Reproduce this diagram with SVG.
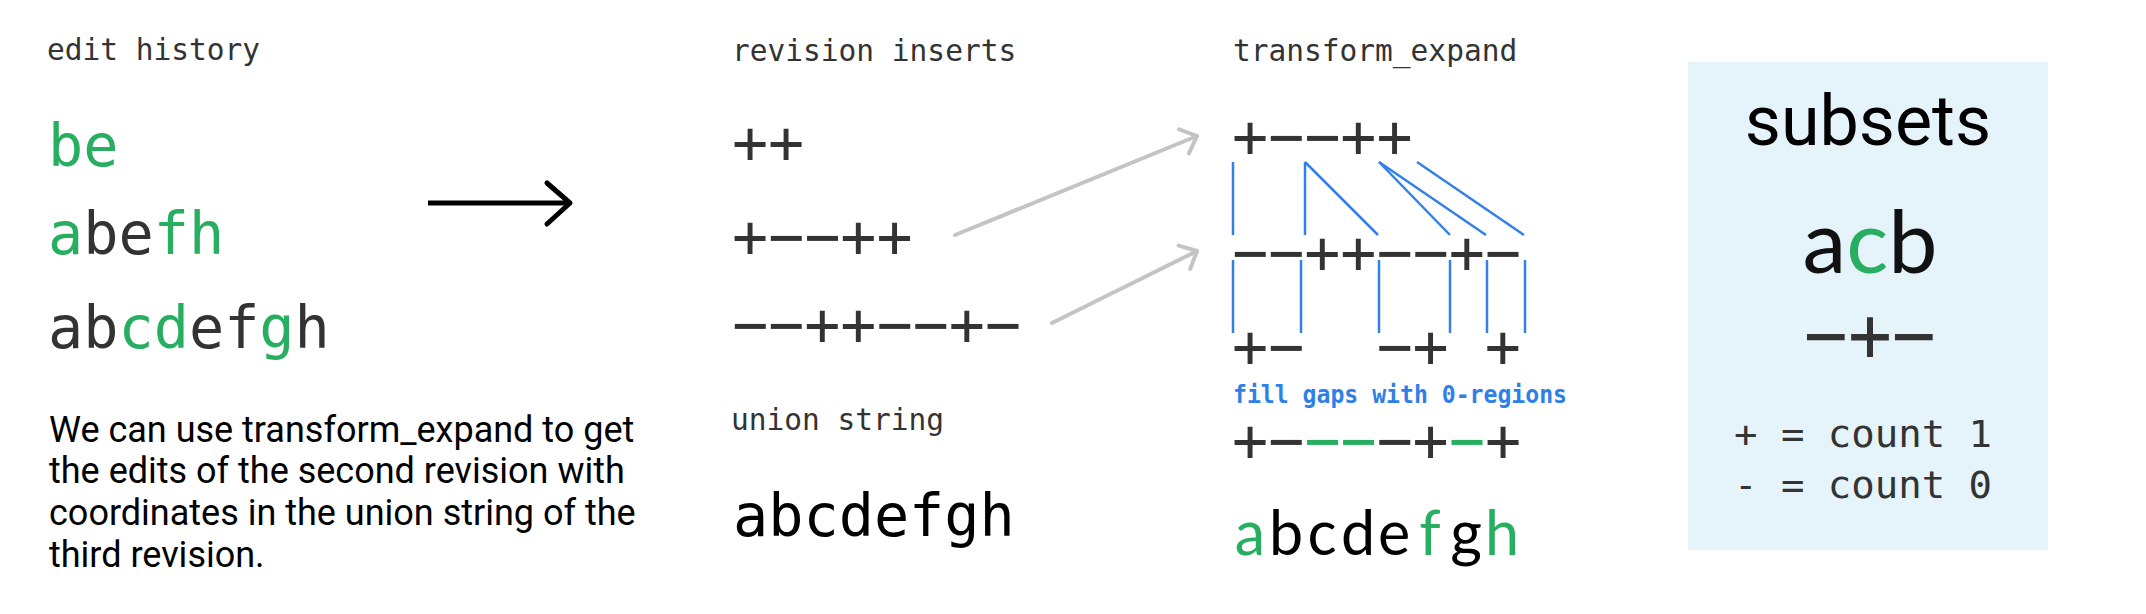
<svg xmlns="http://www.w3.org/2000/svg" width="2146" height="614" viewBox="0 0 2146 614">
<style>
.lbl{font-family:"DejaVu Sans Mono",monospace;font-size:29.5px;fill:#333}
.big{font-family:"DejaVu Sans Mono",monospace;font-size:58.5px;fill:#333}
.pm{font-family:"DejaVu Sans Mono",monospace;font-size:60px;fill:#333}
.lato{font-family:Lato,sans-serif;font-size:61px;fill:#000}
.g{fill:#27ae60}
.k{fill:#000}
.para{font-family:Roboto,sans-serif;font-size:36px;fill:#000}
.blue{stroke:#3381e8;stroke-width:2.5;fill:none}
.gray{stroke:#c4c4c4;stroke-width:4;fill:none;stroke-linecap:round}
.fill{font-family:"DejaVu Sans Mono",monospace;font-size:24px;font-weight:bold;fill:#2f7fe8}
.legend{font-family:"DejaVu Sans Mono",monospace;font-size:38px;fill:#333}
</style>
<defs>
<marker id="ga" markerUnits="userSpaceOnUse" refX="0" refY="0" markerWidth="40" markerHeight="40" orient="auto" style="overflow:visible">
<path d="M-14,-13 L0,0 L-14,13" fill="none" stroke="#c4c4c4" stroke-width="4" stroke-linecap="round" stroke-linejoin="round"/>
</marker>
</defs>

<g id="edit-history">
<text class="lbl" x="47" y="60">edit history</text>
<text class="big" x="48" y="166"><tspan class="g">be</tspan></text>
<text class="big" x="48" y="254"><tspan class="g">a</tspan>be<tspan class="g">fh</tspan></text>
<text class="big" x="48" y="348">ab<tspan class="g">cd</tspan>ef<tspan class="g">g</tspan>h</text>
</g>

<g id="description">
<text class="para" x="49" y="442">We can use transform_expand to get</text>
<text class="para" x="49" y="483">the edits of the second revision with</text>
<text class="para" x="49" y="525">coordinates in the union string of the</text>
<text class="para" x="49" y="567">third revision.</text>
</g>

<g id="revision-inserts">
<text class="lbl" x="732" y="61">revision inserts</text>
<text class="pm" x="732" y="163">++</text>
<text class="pm" x="732" y="257">+−−++</text>
<text class="pm" x="732" y="345">−−++−−+−</text>
</g>

<g id="union-string">
<text class="lbl" x="731" y="430">union string</text>
<text class="big k" x="733" y="536">abcdefgh</text>
</g>

<g id="transform-expand">
<text class="lbl" x="1233" y="61">transform_expand</text>
<text class="pm" x="1232" y="157">+−−++</text>
<text class="pm" x="1232" y="273">−−++−−+−</text>
<text class="pm" y="367"><tspan x="1232">+</tspan><tspan x="1268.1">−</tspan><tspan x="1376.5">−</tspan><tspan x="1412.6">+</tspan><tspan x="1484.8">+</tspan></text>
<text class="fill" x="1233" y="403" textLength="334" lengthAdjust="spacingAndGlyphs">fill gaps with 0-regions</text>
<text class="pm" x="1232" y="461">+−<tspan class="g">−−</tspan>−+<tspan class="g">−</tspan>+</text>
<text class="lato" y="555" text-anchor="middle"><tspan class="g" x="1250">a</tspan><tspan x="1286">b</tspan><tspan x="1322">c</tspan><tspan x="1358">d</tspan><tspan x="1394">e</tspan><tspan class="g" x="1430">f</tspan><tspan x="1466">g</tspan><tspan class="g" x="1502">h</tspan></text>
</g>

<g id="subsets">
<rect x="1688" y="62" width="360" height="488" fill="#e5f4fa"/>
<text x="1868" y="145" text-anchor="middle" style="font-family:Roboto,sans-serif;font-size:70px;fill:#000">subsets</text>
<text x="1870" y="273" text-anchor="middle" style="font-family:Lato,sans-serif;font-size:88px;fill:#111">a<tspan class="g">c</tspan>b</text>
<text x="1870" y="361" text-anchor="middle" class="pm" style="font-size:76px" textLength="132" lengthAdjust="spacingAndGlyphs">−+−</text>
<text class="legend" x="1734" y="447" textLength="258" lengthAdjust="spacingAndGlyphs">+ = count 1</text>
<text class="legend" x="1734" y="498" textLength="258" lengthAdjust="spacingAndGlyphs">- = count 0</text>
</g>

<g id="connectors">
<line x1="428" y1="203" x2="568" y2="203" stroke="#000" stroke-width="5"/>
<path d="M547,183 L570,203 L547,224" fill="none" stroke="#000" stroke-width="5" stroke-linecap="round" stroke-linejoin="round"/>
<line class="gray" x1="955" y1="235" x2="1197" y2="136" marker-end="url(#ga)"/>
<line class="gray" x1="1052" y1="323" x2="1197" y2="251" marker-end="url(#ga)"/>
<line class="blue" x1="1233" y1="162" x2="1233" y2="235"/>
<line class="blue" x1="1305" y1="162" x2="1305" y2="235"/>
<line class="blue" x1="1305" y1="162" x2="1378" y2="235"/>
<line class="blue" x1="1379" y1="162" x2="1450" y2="235"/>
<line class="blue" x1="1379" y1="162" x2="1486" y2="235"/>
<line class="blue" x1="1417" y1="162" x2="1524" y2="235"/>
<line class="blue" x1="1233" y1="260" x2="1233" y2="333"/>
<line class="blue" x1="1301" y1="260" x2="1301" y2="333"/>
<line class="blue" x1="1379" y1="260" x2="1379" y2="333"/>
<line class="blue" x1="1450" y1="260" x2="1450" y2="333"/>
<line class="blue" x1="1487" y1="260" x2="1487" y2="333"/>
<line class="blue" x1="1525" y1="260" x2="1525" y2="333"/>
</g>
</svg>
